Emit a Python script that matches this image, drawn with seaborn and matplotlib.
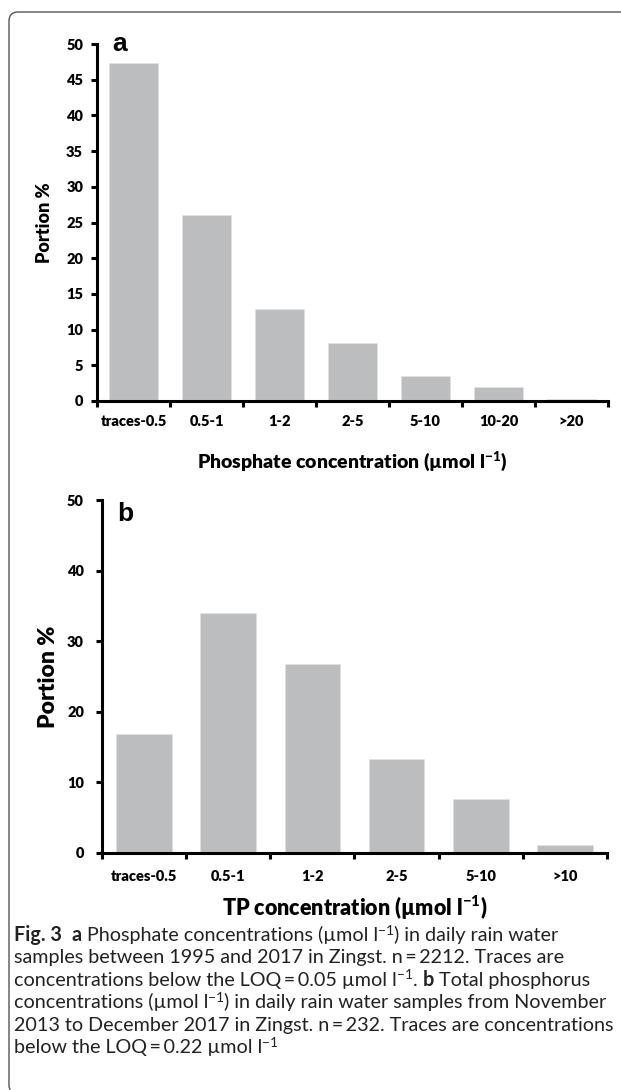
import matplotlib
matplotlib.use("Agg")
import matplotlib.pyplot as plt
import matplotlib.patches as mpatches
import seaborn as sns
import pandas as pd

# ---------------- data ----------------
cats_a = ["traces-0.5", "0.5-1", "1-2", "2-5", "5-10", "10-20", ">20"]
vals_a = [47.3, 26.0, 12.9, 8.1, 3.5, 1.9, 0.3]
cats_b = ["traces-0.5", "0.5-1", "1-2", "2-5", "5-10", ">10"]
vals_b = [16.8, 34.0, 26.7, 13.3, 7.7, 1.2]
yticks_a = [0, 5, 10, 15, 20, 25, 30, 35, 40, 45, 50]
yticks_b = [0, 10, 20, 30, 40, 50]

W, H = 621, 1090
DPI = 100
sns.set_theme(style="white")
plt.rcParams["font.family"] = ["Lato", "DejaVu Sans"]
plt.rcParams["mathtext.fontset"] = "custom"
plt.rcParams["mathtext.rm"] = "Lato:black"
plt.rcParams["mathtext.bf"] = "Lato:black"
plt.rcParams["mathtext.it"] = "Lato:black"

fig = plt.figure(figsize=(W / DPI, H / DPI), dpi=DPI)
fig.patch.set_facecolor("white")

BAR = "#bcbdbf"
TW = "heavy"


def px_axes(l, r, t, b):
    return fig.add_axes([l / W, 1 - b / H, (r - l) / W, (b - t) / H])


def style_axes(ax, cats, vals, yticks, ylab, xlab, ylab_fs, xlab_fs, ytick_pad, xtick_pad,
               xlab_y, ylab_x, letter, letter_y, tick_fs):
    df = pd.DataFrame({"cat": cats, "val": vals})
    sns.barplot(data=df, x="cat", y="val", ax=ax, color=BAR, width=0.66,
                saturation=1, edgecolor="#e2e2e2", linewidth=0.5)
    n = len(cats)
    ax.set_xlim(-0.5, n - 0.5)
    ax.set_ylim(0, 50)
    for s in ["top", "right"]:
        ax.spines[s].set_visible(False)
    for s in ["left", "bottom"]:
        ax.spines[s].set_linewidth(2.2)
        ax.spines[s].set_color("black")
    ax.set_yticks(yticks)
    ax.set_yticklabels([str(v) for v in yticks], fontsize=tick_fs, fontweight=TW)
    ax.tick_params(axis="y", which="major", direction="out", length=4, width=2.2,
                   color="black", pad=ytick_pad, left=True)
    ax.set_xticks([i - 0.5 for i in range(n + 1)])
    ax.set_xticklabels([""] * (n + 1))
    ax.set_xticks(list(range(n)), minor=True)
    ax.set_xticklabels(cats, minor=True, fontsize=tick_fs, fontweight=TW)
    ax.tick_params(axis="x", which="major", direction="out", length=4, width=2.2,
                   color="black", bottom=True)
    ax.tick_params(axis="x", which="minor", length=0, pad=xtick_pad, bottom=True)
    ax.set_xlabel(xlab, fontsize=xlab_fs, fontweight=TW, color="black")
    ax.xaxis.label.set_va("center")
    ax.xaxis.set_label_coords(0.5, xlab_y)
    ax.set_ylabel(ylab, fontsize=ylab_fs, fontweight=TW, color="black")
    ax.yaxis.label.set_va("center")
    ax.yaxis.set_label_coords(ylab_x, 0.5)
    for lbl in ax.get_yticklabels() + ax.get_xticklabels(minor=True):
        lbl.set_color("black")
    ax.text(0.03, letter_y, letter, transform=ax.transAxes, fontsize=19,
            fontweight="bold", family="Liberation Sans", color="black",
            va="baseline", ha="left")
    ax.set_facecolor("white")


# panel a
ax1 = px_axes(97, 608, 44, 401)
style_axes(ax1, cats_a, vals_a, yticks_a, "Portion %",
           r"Phosphate concentration (µmol l$^{\mathrm{-1}}$)",
           13, 14, 6, 10, -(461 - 401) / 357, -(97 - 45) / 511, "a", (401 - 51) / 357, 10.5)

# panel b
ax2 = px_axes(102, 607, 500, 853)
style_axes(ax2, cats_b, vals_b, yticks_b, "Portion %",
           r"TP concentration (µmol l$^{\mathrm{-1}}$)",
           16.5, 15.5, 9, 12, -(908 - 853) / 353, -(102 - 48) / 505, "b", (853 - 521) / 353, 10.5)

# rounded frame around the figure
frame = mpatches.FancyBboxPatch((9 / DPI, -0.04), 8.0, (H - 12) / DPI + 0.04,
                                boxstyle="round,pad=0,rounding_size=0.09",
                                transform=fig.dpi_scale_trans, fill=False,
                                edgecolor="#555555", linewidth=1.0, clip_on=False)
fig.patches.append(frame)

# ---------------- caption ----------------
cap_lines = [
    [("Fig. 3", "bold", False), ("  ", "normal", False), ("a", "bold", False),
     (" Phosphate concentrations (µmol l", "normal", False), ("−1", "normal", True),
     (") in daily rain water", "normal", False)],
    [("samples between 1995 and 2017 in Zingst. n\u2009=\u20092212. Traces are", "normal", False)],
    [("concentrations below the LOQ\u2009=\u20090.05 µmol l", "normal", False), ("−1", "normal", True),
     (". ", "normal", False), ("b", "bold", False), (" Total phosphorus", "normal", False)],
    [("concentrations (µmol l", "normal", False), ("−1", "normal", True),
     (") in daily rain water samples from November", "normal", False)],
    [("2013 to December 2017 in Zingst. n\u2009=\u2009232. Traces are concentrations", "normal", False)],
    [("below the LOQ\u2009=\u20090.22 µmol l", "normal", False), ("−1", "normal", True)],
]
CAP_FAMILY = ["Lato", "DejaVu Sans"]
renderer = fig.canvas.get_renderer()


def run_width(text, size, weight):
    t1 = fig.text(0, 0, "X" + text + "X", fontsize=size, fontweight=weight, family=CAP_FAMILY)
    t2 = fig.text(0, 0, "XX", fontsize=size, fontweight=weight, family=CAP_FAMILY)
    w = t1.get_window_extent(renderer).width - t2.get_window_extent(renderer).width
    t1.remove()
    t2.remove()
    return w


def line_width(runs, size):
    return sum(run_width(t, size * (0.7 if sup else 1.0), wt) for t, wt, sup in runs)


base = 12.0
target = 604 - 14
cap_size = base * target / line_width(cap_lines[3], base)

x0 = 14
y_base0 = 941
lh = 22.4
for i, runs in enumerate(cap_lines):
    x = x0
    yb = y_base0 + i * lh
    for text, wt, sup in runs:
        fs = cap_size * (0.7 if sup else 1.0)
        dy = cap_size * 0.45 if sup else 0
        fig.text(x / W, 1 - (yb - dy) / H, text, fontsize=fs, fontweight=wt,
                 family=CAP_FAMILY, color="#222222", va="baseline", ha="left")
        x += run_width(text, fs, wt)

fig.savefig("out.png", dpi=DPI, facecolor="white")
